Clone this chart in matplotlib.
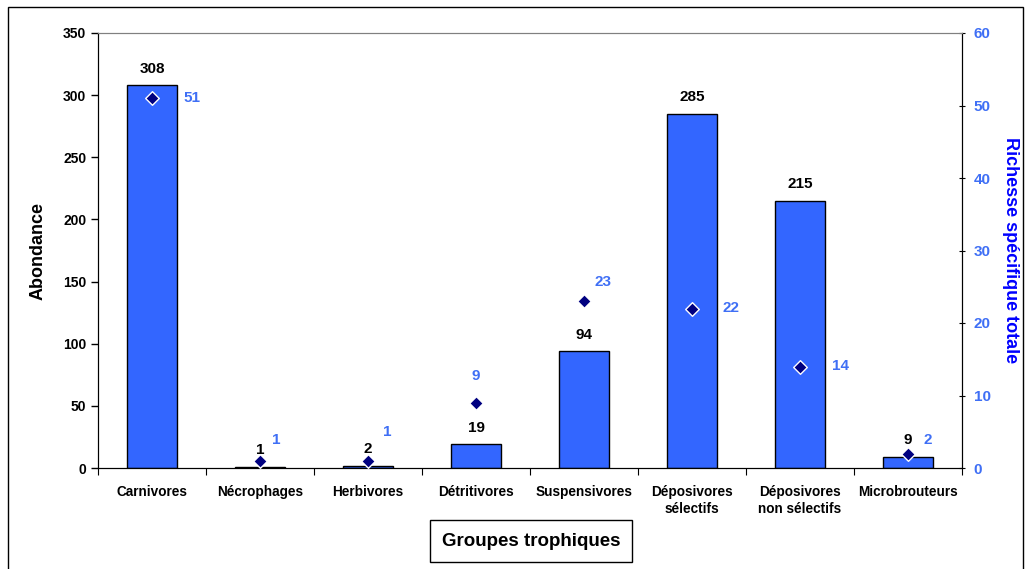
import matplotlib.pyplot as plt
from matplotlib.patches import Rectangle

plt.rcParams['font.family'] = ['Liberation Sans', 'DejaVu Sans']
plt.rcParams['font.weight'] = 'bold'
plt.rcParams['axes.labelweight'] = 'bold'

groupes = ['Carnivores', 'Nécrophages', 'Herbivores', 'Détritivores', 'Suspensivores',
           'Déposivores\nsélectifs', 'Déposivores\nnon sélectifs', 'Microbrouteurs']
abondance = [308, 1, 2, 19, 94, 285, 215, 9]
richesse = [51, 1, 1, 9, 23, 22, 14, 2]

# label offsets for the richness values (points), as placed in the original
rich_off = [(29, 0), (12, 15), (14, 21), (0, 19), (14, 14), (28, 0), (29, 0), (14, 10)]

bar_col = '#3366FF'
lab_col = '#3F6FF5'

fig = plt.figure(figsize=(10.32, 5.69), dpi=100)
ax1 = fig.add_axes([98/1032, 1-468/569, (962-98)/1032, (468-33)/569])
ax2 = ax1.twinx()

x = list(range(len(groupes)))
ax1.bar(x, abondance, width=0.46, color=bar_col, edgecolor='black', linewidth=1, zorder=2)
ax1.set_xlim(-0.5, len(groupes) - 0.5)
ax1.set_ylim(0, 350)
ax1.set_yticks(range(0, 351, 50))
for xi, v in zip(x, abondance):
    ax1.annotate(str(v), (xi, v), xytext=(0, 12), textcoords='offset points',
                 ha='center', va='center', fontsize=11, color='black')

ax2.scatter(x, richesse, marker='D', s=48, color='#000080', edgecolors='white',
            linewidths=1, zorder=3)
ax2.set_ylim(0, 60)
ax2.set_yticks(range(0, 61, 10))
for xi, v, (dx, dy) in zip(x, richesse, rich_off):
    ax2.annotate(str(v), (xi, v), xytext=(dx, dy), textcoords='offset points',
                 ha='center', va='center', fontsize=11, color=lab_col)

# category ticks on boundaries, labels centred
ax1.set_xticks([i - 0.5 for i in range(len(groupes) + 1)])
ax1.set_xticklabels([])
ax1.set_xticks(x, minor=True)
ax1.set_xticklabels(groupes, minor=True, fontsize=9.8, linespacing=1.3)
ax1.tick_params(axis='x', which='minor', length=0, pad=12)
ax1.tick_params(axis='x', which='major', length=5, direction='out')

ax1.tick_params(axis='y', length=5, direction='out', labelsize=10, width=1)
ax2.tick_params(axis='y', length=5, direction='inout', labelsize=11, labelcolor=lab_col, pad=6)

ax1.set_ylabel('Abondance', fontsize=13, fontweight='bold', labelpad=12)
ax2.set_ylabel('Richesse spécifique totale', fontsize=13, fontweight='bold',
               color='#0000FF', rotation=-90, labelpad=20)

for a in (ax1, ax2):
    a.spines['top'].set_color('#808080')
    for s in ('left', 'right', 'bottom'):
        a.spines[s].set_color('black')

fig.text(531/1032, 1-541/569, 'Groupes trophiques', ha='center', va='center',
         fontsize=13.5, fontweight='bold',
         bbox=dict(boxstyle='square,pad=0.65', facecolor='white', edgecolor='black', linewidth=1))

fig.patches.append(Rectangle((8/1032, -0.05), 1015/1032, 1.05 - 7/569,
                             transform=fig.transFigure, fill=False, edgecolor='black',
                             linewidth=1))

fig.savefig('out.png', dpi=100)
